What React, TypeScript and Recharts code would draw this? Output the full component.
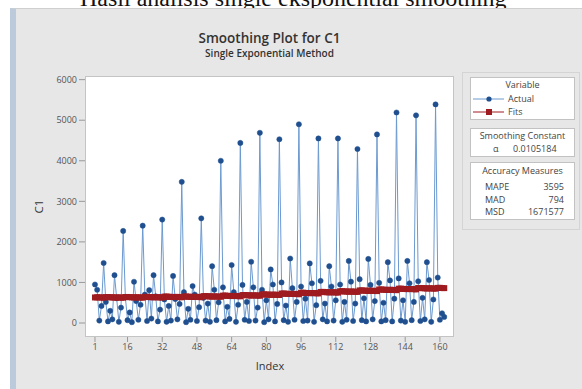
import React from 'react';
import { LineChart, Line, XAxis, YAxis } from 'recharts';

// Actual values of C1, index 1..162
const actual = [
  950, 820, 60, 420, 1480, 520, 40, 300, 90,
  1180, 610, 30, 380, 2270, 640, 70, 260, 20,
  1017, 540, 80, 450, 2400, 700, 50, 810, 110,
  1180, 660, 40, 330, 2550, 580, 30, 420, 60,
  1160, 590, 90, 470, 3480, 760, 20, 350, 80,
  910, 700, 50, 390, 2580, 620, 60, 480, 30,
  1400, 820, 70, 510, 4000, 880, 40, 400, 100,
  1430, 760, 30, 450, 4440, 940, 80, 520, 50,
  1510, 880, 60, 380, 4690, 820, 20, 560, 90,
  1320, 950, 40, 470, 4530, 1000, 70, 430, 30,
  1590, 860, 80, 520, 4900, 900, 50, 600, 60,
  1470, 980, 30, 440, 4550, 1040, 90, 480, 40,
  1400, 900, 60, 560, 4550, 950, 30, 520, 80,
  1530, 1020, 50, 480, 4290, 1080, 70, 610, 40,
  1580, 940, 90, 540, 4650, 990, 40, 500, 70,
  1500, 1050, 40, 600, 5190, 1100, 60, 560, 30,
  1530, 980, 70, 520, 5120, 1030, 50, 620, 90,
  1500, 1060, 30, 580, 5390, 1120, 80, 240, 150,
];

// Single exponential fits
const fits = [
  630, 633, 633, 628, 625, 639, 640, 634, 632,
  628, 631, 631, 626, 623, 641, 642, 636, 634,
  630, 633, 633, 628, 625, 644, 645, 639, 637,
  633, 636, 636, 631, 628, 651, 652, 646, 644,
  640, 643, 643, 638, 635, 653, 654, 648, 646,
  642, 645, 645, 640, 637, 663, 664, 658, 656,
  652, 655, 655, 650, 647, 675, 676, 670, 668,
  664, 667, 667, 662, 659, 689, 690, 684, 682,
  678, 681, 681, 676, 673, 706, 707, 701, 699,
  695, 698, 698, 693, 690, 726, 727, 721, 719,
  715, 718, 718, 713, 710, 746, 747, 741, 739,
  735, 738, 738, 733, 730, 766, 767, 761, 759,
  755, 758, 758, 753, 750, 783, 784, 778, 776,
  772, 775, 775, 770, 767, 803, 804, 798, 796,
  792, 795, 795, 790, 787, 826, 827, 821, 819,
  815, 818, 818, 813, 810, 846, 847, 841, 839,
  835, 838, 838, 833, 830, 863, 864, 858, 856,
  852, 855, 855, 850, 847, 866, 867, 862, 860,
];

const xTicks = [1, 16, 32, 48, 64, 80, 96, 112, 128, 144, 160];
const yTicks = [0, 1000, 2000, 3000, 4000, 5000, 6000];

const accuracyLabels = ['MAPE', 'MAD', 'MSD'];
const accuracyValues = ['3595', '794', '1671577'];

const data = actual.map((v, i) => ({ index: i + 1, actual: v, fits: fits[i] }));

const font = '"Open Sans", "Noto Sans", sans-serif';
const blueLine = '#6c9ad0';
const blueDot = '#1f4f8f';
const red = '#9e1b1f';

const Square = (props: any) => {
  const { cx, cy, index } = props;
  if (cx == null || cy == null) return null;
  return <rect key={`sq-${index}`} x={cx - 3} y={cy - 3} width={6} height={6} fill={red} />;
};

const box: React.CSSProperties = {
  position: 'absolute',
  background: '#fff',
  border: '1px solid #c2c2c2',
  boxSizing: 'border-box',
  fontFamily: font,
  fontSize: 9,
  color: '#444',
};

export default function App() {
  return (
    <div style={{ position: 'absolute', left: 0, top: 0, width: 582, height: 389, overflow: 'hidden', background: '#fff' }}>
      {/* caption, cut off at the top as in the source screenshot */}
      <div style={{ position: 'absolute', left: 80, top: -14, fontFamily: '"Liberation Serif", serif', fontSize: 24, lineHeight: '24px', whiteSpace: 'nowrap', color: '#111' }}>
        Hasil analisis single eksponential smoothing
      </div>

      {/* minitab panel */}
      <div style={{ position: 'absolute', left: 10, top: 8, width: 572, height: 381, background: '#e7e7e7', borderTop: '1px solid #cfcfcf', borderLeft: '6px solid #bccbdb', boxSizing: 'border-box' }} />

      {/* plot area */}
      <div style={{ position: 'absolute', left: 85, top: 76, width: 369, height: 261, background: '#fff', border: '1px solid #c4c4c4', boxSizing: 'border-box' }} />

      <div style={{ position: 'absolute', left: 85, width: 369, top: 29, textAlign: 'center', fontFamily: font, fontWeight: 600, fontSize: 13.5, color: '#333' }}>
        Smoothing Plot for C1
      </div>
      <div style={{ position: 'absolute', left: 85, width: 369, top: 46, textAlign: 'center', fontFamily: font, fontWeight: 600, fontSize: 10, color: '#333' }}>
        Single Exponential Method
      </div>
      <div style={{ position: 'absolute', left: 220, width: 100, top: 358, textAlign: 'center', fontFamily: font, fontSize: 11, color: '#333' }}>
        Index
      </div>
      <div style={{ position: 'absolute', left: 28, top: 199, width: 20, textAlign: 'center', fontFamily: font, fontSize: 11.5, color: '#333', transform: 'rotate(-90deg)' }}>
        C1
      </div>

      <LineChart
        width={582}
        height={389}
        data={data}
        margin={{ top: 76, right: 128, bottom: 22, left: 35 }}
        style={{ position: 'absolute', left: 0, top: 0 }}
      >
        <XAxis
          dataKey="index"
          type="number"
          domain={[-3.6, 166.5]}
          ticks={xTicks}
          allowDataOverflow
          height={30}
          tickSize={5}
          tickMargin={2}
          axisLine={false}
          tickLine={{ stroke: '#999' }}
          tick={{ fill: '#555', fontSize: 9, fontFamily: font }}
        />
        <YAxis
          type="number"
          domain={[-345, 6090]}
          ticks={yTicks}
          allowDataOverflow
          width={50}
          tickSize={6}
          tickMargin={2}
          axisLine={false}
          tickLine={{ stroke: '#999' }}
          tick={{ fill: '#555', fontSize: 9, fontFamily: font }}
        />
        <Line
          dataKey="actual"
          type="linear"
          stroke={blueLine}
          strokeWidth={1}
          dot={{ r: 2.6, fill: blueDot, stroke: blueDot, strokeWidth: 0.5 }}
          isAnimationActive={false}
        />
        <Line
          dataKey="fits"
          type="linear"
          stroke={red}
          strokeWidth={1}
          dot={Square}
          isAnimationActive={false}
        />
      </LineChart>

      {/* legend frame */}
      <div style={{ position: 'absolute', left: 462, top: 72, width: 118, height: 158, border: '1px solid #d4d4d4', boxSizing: 'border-box' }} />

      <div style={{ ...box, left: 470, top: 77, width: 105, height: 43 }}>
        <div style={{ position: 'absolute', left: 0, right: 0, top: 1, textAlign: 'center', lineHeight: '12px' }}>Variable</div>
        <svg width={34} height={30} style={{ position: 'absolute', left: 1, top: 14 }}>
          <line x1={1} y1={7} x2={32} y2={7} stroke={blueLine} strokeWidth={1} />
          <circle cx={17} cy={7} r={2.6} fill={blueDot} />
          <line x1={1} y1={20} x2={32} y2={20} stroke={red} strokeWidth={1} />
          <rect x={14} y={17} width={6} height={6} fill={red} />
        </svg>
        <div style={{ position: 'absolute', left: 37, top: 15, lineHeight: '12px' }}>Actual</div>
        <div style={{ position: 'absolute', left: 37, top: 28, lineHeight: '12px' }}>Fits</div>
      </div>

      <div style={{ ...box, left: 470, top: 128, width: 105, height: 29 }}>
        <div style={{ position: 'absolute', left: 0, right: 0, top: 1, textAlign: 'center', lineHeight: '12px' }}>Smoothing Constant</div>
        <div style={{ position: 'absolute', left: 22, top: 14, lineHeight: '12px' }}>α</div>
        <div style={{ position: 'absolute', left: 42, top: 14, lineHeight: '12px' }}>0.0105184</div>
      </div>

      <div style={{ ...box, left: 470, top: 162, width: 105, height: 58 }}>
        <div style={{ position: 'absolute', left: 0, right: 0, top: 2, textAlign: 'center', lineHeight: '12px' }}>Accuracy Measures</div>
        {accuracyLabels.map((lab, i) => (
          <React.Fragment key={lab}>
            <div style={{ position: 'absolute', left: 14, top: 18 + i * 12.5, lineHeight: '12px' }}>{lab}</div>
            <div style={{ position: 'absolute', right: 10, top: 18 + i * 12.5, lineHeight: '12px' }}>{accuracyValues[i]}</div>
          </React.Fragment>
        ))}
      </div>
    </div>
  );
}
